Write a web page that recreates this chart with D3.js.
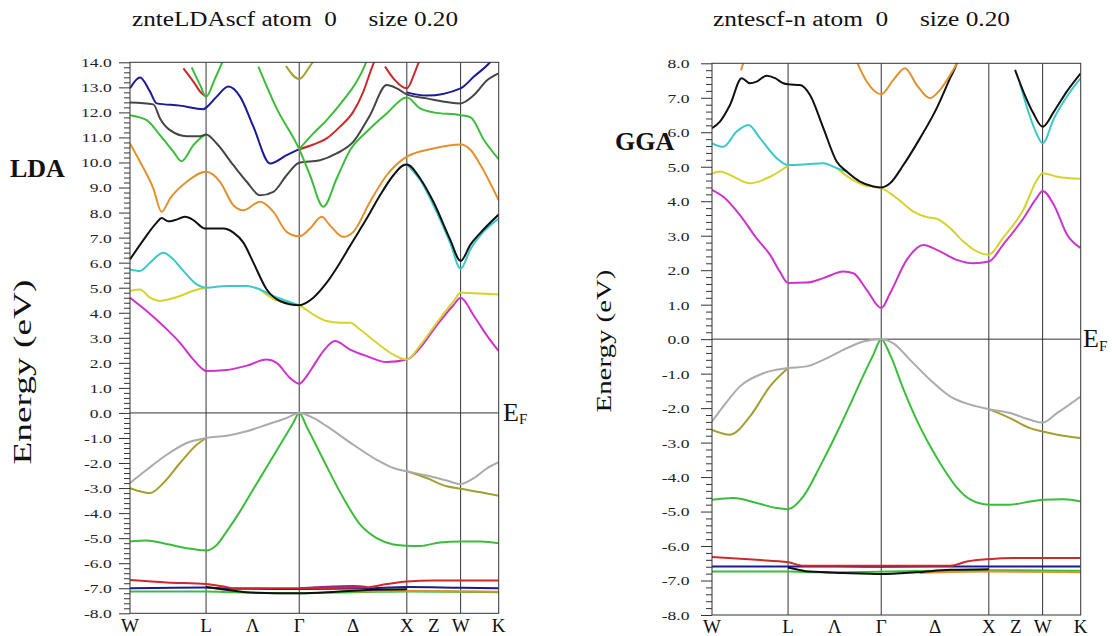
<!DOCTYPE html>
<html><head><meta charset="utf-8">
<script src="https://cdn.jsdelivr.net/npm/d3@7"></script>
<style>body{margin:0;background:#fff} svg{display:block}</style>
</head><body><svg id="c" width="1112" height="636"></svg>
<script>
// ---------- k-path (units of 2π/a) ----------
const kLabels = ["W","L","Λ","Γ","Δ","X","Z","W","K"];
const kLabelPos = [0, 0.707, 1.140, 1.573, 2.073, 2.573, 2.823, 3.073, 3.427];
const kLines = [0.707, 1.573, 2.573, 3.073];
const kEnd = 3.427;

// ---------- LDA bands [k, E(eV)] ----------
const ldaDRed = [[0,-6.67],[0.341,-6.77],[0.707,-6.83],[0.868,-6.93],[0.961,-7.0],[1.573,-7.0],[2.2,-6.96],[2.386,-6.83],[2.573,-6.73],[2.82,-6.69],[3.427,-6.69]];
const ldaDBlue = [[0,-7.0],[0.707,-6.97],[0.961,-7.02],[1.573,-7.03],[2.2,-7.0],[2.573,-6.95],[3.073,-6.98],[3.427,-7.0]];
const ldaDGreen = [[0,-7.13],[0.707,-7.13],[0.961,-7.16],[1.573,-7.2],[2.2,-7.15],[2.573,-7.13],[3.427,-7.16]];
const ldaDBlack = [[0.707,-6.95],[0.868,-7.05],[1.116,-7.17],[1.573,-7.2],[1.890,-7.15],[2.2,-7.07],[2.573,-7.04]];
const ldaDPurple = [[1.573,-7.0],[1.735,-6.96],[1.890,-6.93],[2.076,-6.91],[2.2,-6.95]];
const ldaDOrange = [[2.076,-7.13],[2.573,-7.1],[3.427,-7.14]];
const ldaVGreen = [[0,-5.13],[0.155,-5.09],[0.31,-5.2],[0.527,-5.4],[0.707,-5.49],[0.806,-5.27],[0.899,-4.73],[1.023,-3.93],[1.147,-3.04],[1.271,-2.16],[1.394,-1.28],[1.518,-0.39],[1.573,0],[1.642,-0.55],[1.797,-1.87],[1.983,-3.4],[2.138,-4.45],[2.293,-5.0],[2.448,-5.25],[2.573,-5.3],[2.697,-5.31],[2.882,-5.17],[3.073,-5.13],[3.259,-5.13],[3.427,-5.2]];
const ldaVOlive = [[0,-3.0],[0.093,-3.13],[0.186,-3.2],[0.31,-2.8],[0.465,-2.0],[0.62,-1.27],[0.707,-1.0]];
const ldaVOlive2 = [[2.573,-2.33],[2.758,-2.6],[2.944,-2.93],[3.073,-3.03],[3.259,-3.17],[3.427,-3.31]];
const ldaVGray = [[0,-2.8],[0.155,-2.27],[0.341,-1.67],[0.527,-1.2],[0.707,-1.0],[0.899,-0.91],[1.085,-0.73],[1.271,-0.47],[1.456,-0.2],[1.573,0],[1.704,-0.2],[1.828,-0.53],[2.076,-1.27],[2.293,-1.87],[2.448,-2.2],[2.573,-2.33],[2.758,-2.5],[2.944,-2.7],[3.073,-2.84],[3.197,-2.6],[3.321,-2.2],[3.427,-1.97]];
const ldaMagenta = [[0,4.6],[0.155,4.07],[0.31,3.47],[0.465,2.8],[0.589,2.13],[0.682,1.73],[0.707,1.67],[0.899,1.71],[1.085,1.89],[1.271,2.13],[1.363,2.0],[1.487,1.4],[1.573,1.17],[1.642,1.47],[1.704,1.87],[1.797,2.47],[1.906,2.87],[2.045,2.53],[2.2,2.27],[2.386,2.03],[2.573,2.13],[2.697,2.6],[2.851,3.5],[3.006,4.3],[3.073,4.6],[3.197,3.87],[3.321,3.07],[3.427,2.47]];
const ldaYellow = [[0,4.87],[0.093,4.93],[0.186,4.6],[0.279,4.47],[0.372,4.55],[0.465,4.67],[0.589,4.88],[0.707,5.0]];
const ldaYellow2 = [[1.209,4.93],[1.333,4.55],[1.456,4.4],[1.573,4.29],[1.704,3.93],[1.828,3.67],[1.952,3.6],[2.045,3.6],[2.138,3.33],[2.293,2.8],[2.448,2.33],[2.573,2.13],[2.697,2.7],[2.851,3.6],[3.006,4.45],[3.073,4.8],[3.197,4.78],[3.427,4.73]];
const ldaCyan = [[0,5.73],[0.093,5.67],[0.186,6.0],[0.31,6.4],[0.403,6.13],[0.496,5.67],[0.62,5.13],[0.707,5.0],[0.899,5.07],[1.085,5.07],[1.209,4.93],[1.333,4.67],[1.456,4.47],[1.573,4.3]];
const ldaCyan2 = [[2.573,9.92],[2.697,9.3],[2.82,8.3],[2.975,6.8],[3.073,5.76],[3.166,6.55],[3.259,7.1],[3.427,7.76]];
const ldaBlack = [[0,6.13],[0.124,6.9],[0.248,7.6],[0.294,7.78],[0.356,7.65],[0.418,7.7],[0.511,7.83],[0.589,7.7],[0.682,7.38],[0.707,7.36],[0.868,7.36],[0.961,7.2],[1.054,6.8],[1.147,6.0],[1.271,4.93],[1.394,4.47],[1.573,4.3],[1.704,4.6],[1.828,5.2],[1.952,6.0],[2.045,6.67],[2.2,7.76],[2.324,8.69],[2.448,9.49],[2.541,9.89],[2.573,9.92],[2.697,9.36],[2.82,8.43],[2.975,6.93],[3.073,6.07],[3.166,6.73],[3.259,7.2],[3.427,7.92]];
const ldaOrange = [[0,10.76],[0.093,10.03],[0.217,8.96],[0.294,8.03],[0.372,8.56],[0.527,9.23],[0.707,9.63],[0.837,9.23],[0.961,8.29],[1.054,8.09],[1.209,8.43],[1.333,8.03],[1.456,7.23],[1.573,7.05],[1.673,7.36],[1.782,7.83],[1.859,7.49],[1.983,7.03],[2.076,7.23],[2.231,8.43],[2.386,9.49],[2.573,10.23],[2.82,10.56],[3.073,10.72],[3.166,10.5],[3.259,9.89],[3.427,8.49]];
const ldaDarkGray = [[0,12.39],[0.217,12.32],[0.279,11.76],[0.372,11.29],[0.527,11.05],[0.651,11.05],[0.707,11.12],[0.806,10.76],[0.961,9.89],[1.085,9.23],[1.209,8.69],[1.333,8.83],[1.456,9.49],[1.573,9.99],[1.766,10.09],[1.921,10.36],[2.076,10.83],[2.231,11.89],[2.386,13.09],[2.479,12.96],[2.573,12.72],[2.758,12.56],[3.073,12.36],[3.197,12.69],[3.321,13.29],[3.427,13.56]];
const ldaGreenA = [[0,11.89],[0.155,11.69],[0.279,11.09],[0.403,10.43],[0.48,10.05],[0.589,10.69],[0.651,10.96],[0.707,11.12]];
const ldaGreenL = [[0.573,13.8],[0.651,13.1],[0.707,12.63],[0.79,13.35],[0.883,14.25]];
const ldaRedL = [[0.496,13.76],[0.589,13.23],[0.666,12.76],[0.707,12.63]];
const ldaGreenB = [[1.193,13.83],[1.363,12.16],[1.573,10.53],[1.673,9.49],[1.797,8.23],[1.921,9.36],[2.045,10.49],[2.2,11.23],[2.386,11.96],[2.573,12.59],[2.697,12.16],[2.82,12.0],[3.073,11.89],[3.166,11.8],[3.29,10.9],[3.427,10.13]];
const ldaGreenC = [[1.573,10.53],[1.704,11.16],[1.828,11.69],[1.983,12.49],[2.107,13.23],[2.185,13.9],[2.22,14.3]];
const ldaRedA = [[1.573,10.53],[1.704,10.72],[1.828,10.96],[1.952,11.43],[2.076,12.03],[2.169,12.83],[2.246,13.76],[2.277,14.1]];
const ldaRedX = [[2.371,13.83],[2.448,13.36],[2.573,12.96],[2.65,13.63],[2.697,14.16]];
const ldaBlue = [[0,12.96],[0.093,13.39],[0.186,12.83],[0.248,12.36],[0.465,12.27],[0.682,12.13],[0.707,12.19],[0.806,12.63],[0.914,13.03],[1.023,12.63],[1.147,11.43],[1.302,9.96],[1.456,10.29],[1.573,10.53]];
const ldaBlue2 = [[2.573,12.8],[2.758,12.67],[3.073,12.96],[3.197,13.43],[3.352,14.03],[3.4,14.3]];
const ldaOliveTop = [[1.45,13.85],[1.573,13.33],[1.673,13.85],[1.72,14.15]];

// ---------- GGA bands [k, E(eV)] ----------
const ggaDRed = [[0,-6.32],[0.415,-6.4],[0.707,-6.47],[0.849,-6.57],[1.573,-6.57],[2.213,-6.57],[2.368,-6.45],[2.573,-6.38],[2.801,-6.35],[3.427,-6.35]];
const ggaDBlue = [[0,-6.59],[0.707,-6.59],[1.573,-6.6],[2.573,-6.59],[3.427,-6.59]];
const ggaDGreen = [[0,-6.74],[0.707,-6.74],[1.0,-6.76],[2.573,-6.7],[3.427,-6.72]];
const ggaDBlack = [[0.707,-6.62],[0.911,-6.74],[1.221,-6.78],[1.573,-6.81],[1.903,-6.76],[2.213,-6.69],[2.573,-6.67]];
const ggaDOrange = [[1.934,-6.78],[2.573,-6.74],[3.427,-6.76]];
const ggaVGreen = [[0,-4.66],[0.198,-4.61],[0.415,-4.75],[0.601,-4.9],[0.707,-4.93],[0.849,-4.56],[1.004,-3.69],[1.159,-2.73],[1.283,-1.9],[1.407,-1.05],[1.5,-0.45],[1.573,0],[1.655,-0.45],[1.779,-1.45],[1.903,-2.35],[2.027,-3.1],[2.151,-3.75],[2.275,-4.3],[2.399,-4.65],[2.573,-4.8],[2.77,-4.8],[2.956,-4.71],[3.073,-4.66],[3.271,-4.64],[3.427,-4.71]];
const ggaVOlive = [[0,-2.63],[0.167,-2.77],[0.353,-2.24],[0.539,-1.37],[0.707,-0.84]];
const ggaVOlive2 = [[2.573,-2.03],[2.77,-2.29],[2.956,-2.58],[3.073,-2.68],[3.209,-2.77],[3.427,-2.87]];
const ggaVGray = [[0,-2.39],[0.105,-1.95],[0.26,-1.37],[0.477,-0.99],[0.707,-0.84],[0.88,-0.79],[1.035,-0.6],[1.221,-0.31],[1.407,-0.07],[1.573,0],[1.686,-0.12],[1.841,-0.6],[2.027,-1.18],[2.213,-1.66],[2.399,-1.9],[2.573,-2.03],[2.77,-2.14],[2.956,-2.34],[3.073,-2.42],[3.209,-2.14],[3.427,-1.66]];
const ggaMagenta = [[0,4.33],[0.105,4.13],[0.26,3.6],[0.415,2.92],[0.539,2.45],[0.632,1.95],[0.707,1.63],[0.88,1.64],[1.035,1.77],[1.221,1.96],[1.314,1.91],[1.438,1.43],[1.573,0.9],[1.655,1.33],[1.81,2.3],[1.965,2.73],[2.089,2.59],[2.275,2.3],[2.43,2.2],[2.573,2.25],[2.708,2.75],[2.894,3.5],[3.018,4.1],[3.073,4.3],[3.178,3.89],[3.302,3.02],[3.427,2.64]];
const ggaYellow = [[0,4.8],[0.074,4.86],[0.167,4.76],[0.353,4.52],[0.539,4.71],[0.707,5.03]];
const ggaYellow2 = [[1.159,4.96],[1.283,4.67],[1.407,4.47],[1.573,4.38],[1.717,4.09],[1.872,3.7],[1.996,3.54],[2.089,3.49],[2.213,3.22],[2.337,2.83],[2.43,2.6],[2.573,2.45],[2.708,2.95],[2.894,3.75],[3.018,4.6],[3.073,4.81],[3.209,4.71],[3.427,4.65]];
const ggaCyan = [[0,5.68],[0.105,5.58],[0.229,6.02],[0.338,6.21],[0.446,5.83],[0.601,5.25],[0.707,5.05],[0.88,5.07],[1.035,5.1],[1.159,4.96],[1.252,4.86]];
const ggaCyan2 = [[2.863,7.4],[2.956,6.45],[3.018,5.95],[3.073,5.68],[3.178,6.4],[3.302,7.05],[3.427,7.57]];
const ggaBlack = [[0,6.12],[0.074,6.31],[0.167,6.79],[0.276,7.57],[0.353,7.42],[0.415,7.47],[0.508,7.64],[0.586,7.57],[0.663,7.42],[0.707,7.39],[0.818,7.37],[0.911,7.08],[1.035,6.12],[1.159,5.15],[1.252,4.86],[1.376,4.57],[1.5,4.43],[1.573,4.4],[1.655,4.52],[1.779,5.05],[1.934,5.83],[2.089,6.7],[2.213,7.57],[2.275,8.0],[2.3,8.3]];
const ggaBlack2 = [[2.817,7.81],[2.894,7.18],[2.987,6.55],[3.073,6.16],[3.178,6.6],[3.302,7.2],[3.427,7.71]];
const ggaOrange = [[1.345,8.05],[1.438,7.47],[1.573,7.1],[1.686,7.52],[1.794,7.86],[1.903,7.37],[2.027,6.99],[2.12,7.23],[2.213,7.66],[2.275,8.0],[2.3,8.2]];
const ggaOrangeTop = [[0.27,7.8],[0.285,7.95],[0.31,8.1]];

// ---------- styling ----------
const C = {magenta:"#cc33cc", yellow:"#d4d42e", cyan:"#3cc8c8", black:"#111111", orange:"#e0922e",
  darkgray:"#454545", green:"#3cbc3c", blue:"#1a1a99", red:"#cc2a2a", olive:"#a3a030",
  gray:"#ababab", purple:"#8a2a8a"};
const SERIF = "'Liberation Serif', 'Times New Roman', Times, serif";

const ldaBands = [
  [ldaDBlue,C.blue],[ldaDGreen,C.green],[ldaDOrange,C.orange],[ldaDBlack,C.black],[ldaDPurple,C.purple],[ldaDRed,C.red],
  [ldaVGreen,C.green],[ldaVOlive,C.olive],[ldaVOlive2,C.olive],[ldaVGray,C.gray],
  [ldaMagenta,C.magenta],[ldaYellow,C.yellow],[ldaYellow2,C.yellow],[ldaCyan,C.cyan],[ldaCyan2,C.cyan],[ldaBlack,C.black],
  [ldaOrange,C.orange],[ldaGreenA,C.green],[ldaDarkGray,C.darkgray],[ldaBlue,C.blue],[ldaBlue2,C.blue],
  [ldaGreenB,C.green],[ldaRedA,C.red],[ldaGreenC,C.green],[ldaRedL,C.red],[ldaGreenL,C.green],
  [ldaRedX,C.red],[ldaOliveTop,C.olive]
];
const ggaBands = [
  [ggaDBlue,C.blue],[ggaDGreen,C.green],[ggaDOrange,C.orange],[ggaDBlack,C.black],[ggaDRed,C.red],
  [ggaVGreen,C.green],[ggaVOlive,C.olive],[ggaVOlive2,C.olive],[ggaVGray,C.gray],
  [ggaMagenta,C.magenta],[ggaYellow,C.yellow],[ggaYellow2,C.yellow],[ggaCyan,C.cyan],[ggaCyan2,C.cyan],[ggaBlack,C.black],[ggaBlack2,C.black],
  [ggaOrange,C.orange],[ggaOrangeTop,C.orange]
];

const panels = [
  {id:"lda", left:130, right:498.7, top:62.3, bottom:613.3, yDomain:[-8,14], bands:ldaBands,
   title:"znteLDAscf atom  0     size 0.20", titleX:295, titleLen:326,
   tag:"LDA", tagX:10, tagY:177, eLabelX:31, eLabelY:372, eLabelLen:185, eLabelSize:26,
   efX:503, labelGap:18.3, xlabY:632},
  {id:"gga", left:712, right:1080.7, top:63.3, bottom:615, yDomain:[-8,8], bands:ggaBands,
   title:"zntescf-n atom  0     size 0.20", titleX:861.5, titleLen:297,
   tag:"GGA", tagX:615, tagY:150, eLabelX:611, eLabelY:341, eLabelLen:143, eLabelSize:21,
   efX:1083, labelGap:22.5, xlabY:633}
];

const svg = d3.select("#c");
const fmt = v => v.toFixed(1);

panels.forEach(p => {
  const x = d3.scaleLinear().domain([0, kEnd]).range([p.left, p.right]);
  const y = d3.scaleLinear().domain(p.yDomain).range([p.bottom, p.top]);
  const g = svg.append("g");

  g.append("clipPath").attr("id","clip-"+p.id).append("rect")
    .attr("x",p.left).attr("y",p.top).attr("width",p.right-p.left).attr("height",p.bottom-p.top);

  const line = d3.line().x(d=>x(d[0])).y(d=>y(d[1])).curve(d3.curveMonotoneX);
  const bg = g.append("g").attr("clip-path","url(#clip-"+p.id+")");

  bg.selectAll("line.sym").data(kLines).join("line")
    .attr("x1",d=>x(d)).attr("x2",d=>x(d)).attr("y1",p.top).attr("y2",p.bottom)
    .attr("stroke","#333").attr("stroke-width",1);
  bg.append("line").attr("x1",p.left).attr("x2",p.right).attr("y1",y(0)).attr("y2",y(0))
    .attr("stroke","#333").attr("stroke-width",1);

  p.bands.forEach(([data,col]) => {
    bg.append("path").attr("d",line(data)).attr("fill","none")
      .attr("stroke",col).attr("stroke-width",2).attr("stroke-linejoin","round");
  });

  g.append("rect").attr("x",p.left).attr("y",p.top).attr("width",p.right-p.left).attr("height",p.bottom-p.top)
    .attr("fill","none").attr("stroke","#333").attr("stroke-width",1);

  const majors = d3.range(p.yDomain[0], p.yDomain[1]+0.001, 1);
  const minors = d3.range(p.yDomain[0]*5, p.yDomain[1]*5+1, 1).map(v=>v/5).filter(v=>Math.abs(v-Math.round(v))>1e-6);
  const ax1 = g.append("g").attr("transform",`translate(${p.left},0)`)
    .call(d3.axisLeft(y).tickValues(minors).tickSize(6).tickFormat(""));
  const ax2 = g.append("g").attr("transform",`translate(${p.left},0)`)
    .call(d3.axisLeft(y).tickValues(majors).tickSize(11).tickFormat(fmt));
  [ax1,ax2].forEach(a=>{ a.select(".domain").remove(); a.selectAll("line").attr("stroke","#333"); });
  ax2.selectAll("text").attr("x",null).attr("dy","0.34em")
    .attr("transform",`translate(${-p.labelGap},0) scale(1.35,1)`)
    .attr("text-anchor","end").attr("fill","#222")
    .style("font-family",SERIF).style("font-size","13px");

  g.selectAll("text.klab").data(kLabels).join("text")
    .attr("x",(d,i)=>x(kLabelPos[i])).attr("y",p.xlabY).attr("text-anchor","middle")
    .style("font-family",SERIF).style("font-size","19px").attr("fill","#111")
    .text(d=>d);

  g.append("text").attr("x",p.titleX).attr("y",26).attr("text-anchor","middle")
    .attr("textLength",p.titleLen).attr("lengthAdjust","spacingAndGlyphs")
    .style("white-space","pre").style("font-family",SERIF).style("font-size","20px")
    .attr("fill","#111").text(p.title);

  g.append("text").attr("x",p.tagX).attr("y",p.tagY)
    .style("font-family",SERIF).style("font-size","26px").style("font-weight","bold")
    .attr("fill","#111").text(p.tag);

  g.append("text").attr("transform",`translate(${p.eLabelX},${p.eLabelY}) rotate(-90)`)
    .attr("text-anchor","middle").attr("textLength",p.eLabelLen).attr("lengthAdjust","spacingAndGlyphs")
    .style("font-family",SERIF).style("font-size",p.eLabelSize+"px")
    .attr("fill","#111").text("Energy (eV)");

  const ef = g.append("text").attr("x",p.efX).attr("y",y(0)+8)
    .style("font-family",SERIF).style("font-size","26px").attr("fill","#111");
  ef.append("tspan").text("E");
  ef.append("tspan").attr("dy",3.5).style("font-size","15px").text("F");
});
</script>
</body></html>
